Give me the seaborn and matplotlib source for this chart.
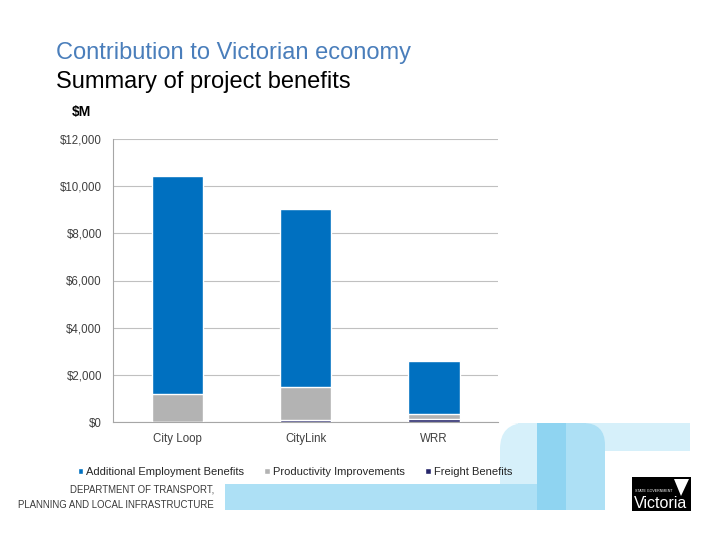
import numpy as np
import pandas as pd
import seaborn as sns
import matplotlib.pyplot as plt
from matplotlib.patches import Rectangle, FancyBboxPatch, Polygon
from matplotlib.ticker import FuncFormatter, FixedLocator

# values ($M)
projects = ["City Loop", "CityLink", "WRR"]
freight = [0, 80, 140]
productivity = [1190, 1400, 200]
employment = [9240, 7550, 2250]
series_names = ["Additional Employment Benefits", "Productivity Improvements", "Freight Benefits"]
colors = ["#0070c0", "#b3b3b3", "#26266b"]
yticks = [0, 2000, 4000, 6000, 8000, 10000, 12000]

sns.set_style("white")
plt.rcParams['font.family'] = ['Liberation Sans', 'DejaVu Sans']

df = pd.DataFrame({"project": projects, "freight": freight,
                   "productivity": productivity, "employment": employment})
# stacked by overlapping cumulative totals
df["top_freight"] = df["freight"]
df["top_prod"] = df["freight"] + df["productivity"]
df["top_emp"] = df["top_prod"] + df["employment"]

W, H = 720, 540
fig = plt.figure(figsize=(7.2, 5.4), dpi=100)

# background decoration, drawn in pixel units
bg = fig.add_axes([0, 0, 1, 1], zorder=-1)
bg.set_xlim(0, W)
bg.set_ylim(H, 0)
bg.axis("off")

light, mid, dark = "#d6f0fa", "#ade0f5", "#8fd4f1"
bg.add_patch(Rectangle((565, 423), 125, 28, color=light, lw=0))
bg.add_patch(FancyBboxPatch((500, 423), 37, 87, boxstyle="round,pad=0,rounding_size=26",
                            color=light, lw=0))
bg.add_patch(Rectangle((518, 423), 19, 87, color=light, lw=0))
bg.add_patch(Rectangle((500, 460), 37, 50, color=light, lw=0))
bg.add_patch(Rectangle((225, 484), 312, 26, color=mid, lw=0))
bg.add_patch(FancyBboxPatch((566, 423), 39, 87, boxstyle="round,pad=0,rounding_size=22",
                            color=mid, lw=0))
bg.add_patch(Rectangle((566, 423), 20, 87, color=mid, lw=0))
bg.add_patch(Rectangle((566, 460), 39, 50, color=mid, lw=0))
bg.add_patch(Rectangle((537, 423), 29, 87, color=dark, lw=0))

# Victoria logo
bg.add_patch(Rectangle((632, 477), 59, 34, color="black", lw=0))
bg.add_patch(Polygon([(674, 479), (689, 479), (681, 496)], color="white", lw=0))
bg.text(661, 503, "Victoria", color="white", fontsize=11.5, ha="center", va="center")
bg.text(635, 491, "STATE GOVERNMENT", color="white", fontsize=2.6, ha="left", va="center")

bg.text(214, 490, "DEPARTMENT OF TRANSPORT,", color="#3a3a3a", fontsize=6.9,
        ha="right", va="center")
bg.text(214, 505, "PLANNING AND LOCAL INFRASTRUCTURE", color="#3a3a3a", fontsize=6.9,
        ha="right", va="center")

ax = fig.add_axes([113 / W, 118 / H, 385 / W, 283 / H])
ax.set_facecolor("none")

sns.barplot(data=df, x="project", y="top_emp", color=colors[0], width=0.4,
            label=series_names[0], ax=ax, saturation=1, zorder=3)
sns.barplot(data=df, x="project", y="top_prod", color=colors[1], width=0.4,
            label=series_names[1], ax=ax, saturation=1, zorder=3)
sns.barplot(data=df, x="project", y="top_freight", color=colors[2], width=0.4,
            label=series_names[2], ax=ax, saturation=1, zorder=3)

ax.set_xlim(-0.5, 2.5)
ax.set_ylim(0, 12000)
ax.set_yticks(yticks)
ax.yaxis.set_major_formatter(FuncFormatter(lambda v, p: "${:,.0f}".format(v)))
ax.grid(axis="y", color="#c0c0c0", lw=0.8, zorder=0)
ax.set_xlabel("")
ax.set_ylabel("")
for s in ["top", "right"]:
    ax.spines[s].set_visible(False)
for s in ["left", "bottom"]:
    ax.spines[s].set_color("#a6a6a6")
    ax.spines[s].set_linewidth(0.8)
ax.tick_params(axis="y", length=4, color="#a6a6a6", labelsize=8.3, labelcolor="#404040", pad=4)
ax.tick_params(axis="x", which="major", length=0, labelsize=8.3, labelcolor="#404040", pad=8)
ax.xaxis.set_minor_locator(FixedLocator([0.5, 1.5, 2.5]))
ax.tick_params(axis="x", which="minor", length=4, color="#a6a6a6")
ax.legend().remove()

handles, labels = ax.get_legend_handles_labels()
fig.legend(handles, labels, loc="center", ncol=3, bbox_to_anchor=(295 / W, 1 - 472 / H),
           frameon=False, fontsize=8, handlelength=0.5, handleheight=0.5,
           handletextpad=0.3, columnspacing=1.8)

fig.text(56 / W, 1 - 53 / H, "Contribution to Victorian economy", color="#4a7ebb",
         fontsize=17, ha="left", va="center")
fig.text(56 / W, 1 - 82 / H, "Summary of project benefits", color="black",
         fontsize=17, ha="left", va="center")
fig.text(72 / W, 1 - 112 / H, "$M", color="black", fontsize=10, fontweight="bold",
         ha="left", va="center")

fig.savefig("out.png", dpi=100)
